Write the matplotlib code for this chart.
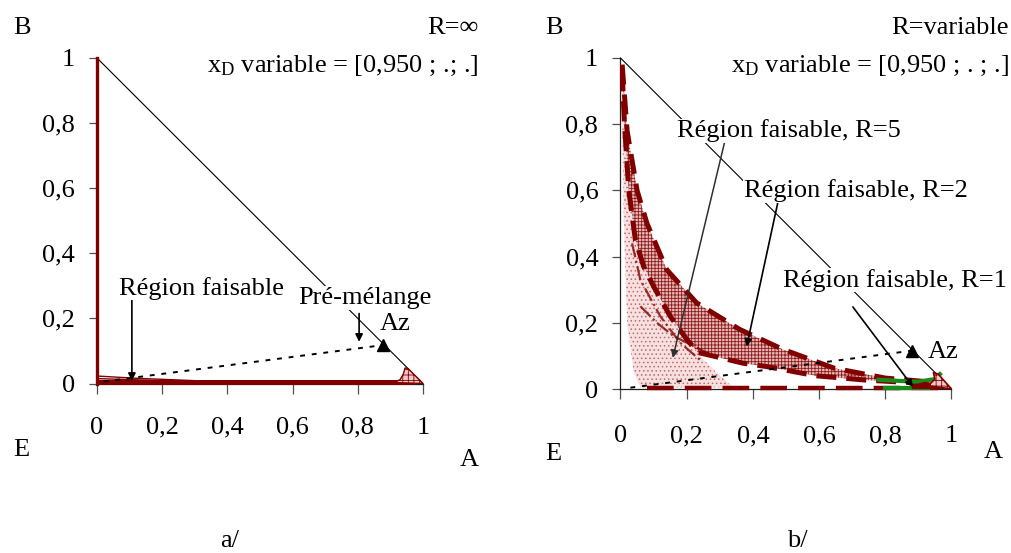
import matplotlib
matplotlib.use("Agg")
import matplotlib.pyplot as plt

plt.rcParams['font.family'] = ['Liberation Serif', 'DejaVu Serif']
plt.rcParams['mathtext.fontset'] = 'custom'
plt.rcParams['mathtext.rm'] = 'Liberation Serif'
plt.rcParams['mathtext.it'] = 'Liberation Serif:italic'
plt.rcParams['hatch.linewidth'] = 0.6

FS = 19
RED = '#800000'
GREEN = '#1a8c1a'

# ---------------- data ----------------
ticks = [0, 0.2, 0.4, 0.6, 0.8, 1]
tick_labels = ['0', '0,2', '0,4', '0,6', '0,8', '1']

diag_x = [0, 1]
diag_y = [1, 0]

# panel a
az_a = (0.878, 0.118)
premix_a_x = [0.02, 0.878]
premix_a_y = [0.006, 0.118]
wedge_a1_x = [0.0, 0.12, 0.32]
wedge_a1_y = [0.023, 0.016, 0.008]
wedge_a2_x = [0.0, 0.10, 0.35]
wedge_a2_y = [0.015, 0.012, 0.004]
corner_a_x = [0.945, 0.955, 1.0, 0.91, 0.93, 0.94]
corner_a_y = [0.048, 0.045, 0.0, 0.003, 0.012, 0.03]

# panel b
az_b = (0.882, 0.116)
premix_b_x = [0.03, 0.882]
premix_b_y = [0.004, 0.116]
r2_upper_x = [0.005, 0.02, 0.05, 0.08, 0.14, 0.23, 0.36, 0.49, 0.645, 0.80, 0.95]
r2_upper_y = [0.98, 0.78, 0.60, 0.50, 0.36, 0.26, 0.18, 0.12, 0.063, 0.033, 0.02]
r2_lower_x = [0.005, 0.012, 0.025, 0.045, 0.07, 0.10, 0.15, 0.20, 0.235, 0.27, 0.37, 0.44, 0.59, 0.74, 0.90]
r2_lower_y = [0.96, 0.80, 0.60, 0.45, 0.37, 0.31, 0.22, 0.15, 0.11, 0.102, 0.078, 0.068, 0.04, 0.027, 0.018]
r5_edge_x = [0.06, 0.34, 0.29, 0.24]
r5_edge_y = [0.005, 0.005, 0.05, 0.10]
r5_left_x = [0.003, 0.01, 0.02, 0.04]
r5_left_y = [0.95, 0.5, 0.2, 0.05]
dashdot1_x = [0.035, 0.06, 0.12, 0.18, 0.24]
dashdot1_y = [0.44, 0.33, 0.22, 0.14, 0.088]
dashdot2_x = [0.06, 0.11, 0.16, 0.22, 0.27]
dashdot2_y = [0.25, 0.20, 0.16, 0.13, 0.105]
bottom_b_x = [0.08, 0.98]
bottom_b_y = [0.003, 0.003]
r1_green1_x = [0.78, 0.85, 0.90, 0.95, 0.965]
r1_green1_y = [0.028, 0.024, 0.022, 0.03, 0.045]
r1_green2_x = [0.80, 0.93]
r1_green2_y = [0.004, 0.004]
r1_red_x = [0.88, 0.98, 0.975, 0.92, 0.88]
r1_red_y = [0.0, 0.0, 0.012, 0.022, 0.012]
corner_b_x = [0.945, 0.96, 1.0, 0.93, 0.95]
corner_b_y = [0.05, 0.045, 0.0, 0.01, 0.03]

# ---------------- figure ----------------
W, H = 1012, 553
fig = plt.figure(figsize=(W / 100, H / 100), dpi=100)


def px_axes(l, r, b, t):
    return fig.add_axes([l / W, 1 - b / H, (r - l) / W, (b - t) / H])


def style(ax, xpad):
    ax.set_xlim(0, 1)
    ax.set_ylim(0, 1)
    for s in ['top', 'right']:
        ax.spines[s].set_visible(False)
    for s in ['left', 'bottom']:
        ax.spines[s].set_color('#202020')
        ax.spines[s].set_linewidth(0.9)
    ax.set_xticks(ticks)
    ax.set_xticklabels(tick_labels)
    ax.set_yticks(ticks)
    ax.set_yticklabels(tick_labels)
    ax.tick_params(axis='x', direction='out', length=7, width=0.9, color='#505050',
                   labelsize=FS, pad=xpad)
    ax.tick_params(axis='y', direction='out', length=6, width=0.9, color='#505050',
                   labelsize=FS, pad=10)
    ax.plot(diag_x, diag_y, color='black', lw=0.8, zorder=3, clip_on=False)


def ftext(x, y, s, ha='center', va='center', **kw):
    fig.text(x / W, 1 - y / H, s, ha=ha, va=va, fontsize=FS, **kw)


def arrow(ax, start, tip, color='black', lw=1.2):
    ax.annotate('', xy=tip, xytext=start,
                arrowprops=dict(arrowstyle='-|>', color=color, lw=lw,
                                mutation_scale=11, shrinkA=0, shrinkB=0),
                zorder=6, annotation_clip=False)


WB = dict(facecolor='white', edgecolor='none', pad=0.5)

# ---------- panel a ----------
axa = px_axes(97, 423, 383.5, 58)
style(axa, 17)
axa.plot([0, 0], [0, 1], color=RED, lw=2.4, clip_on=False, zorder=4)
axa.plot([0, 0.97], [0.004, 0.004], color=RED, lw=3.6, clip_on=False, zorder=4,
         solid_capstyle='butt')
axa.plot(wedge_a1_x, wedge_a1_y, color=RED, lw=1.0, clip_on=False, zorder=4)
axa.plot(wedge_a2_x, wedge_a2_y, color=RED, lw=1.0, clip_on=False, zorder=4)
axa.fill(corner_a_x, corner_a_y, facecolor='#f0c8c8', edgecolor=RED, hatch='+++',
         lw=1.0, zorder=4, clip_on=False)
axa.plot(premix_a_x, premix_a_y, color='black', lw=1.4, ls=(0, (2.5, 3.5)), zorder=5)
axa.plot([az_a[0]], [az_a[1]], marker='^', color='black', ms=9, zorder=7)
axa.text(0.866, 0.182, 'Az', fontsize=FS, ha='left', va='center', zorder=8)
axa.text(0.322, 0.293, 'Région faisable', fontsize=FS, ha='center', va='center',
         zorder=7, bbox=WB)
arrow(axa, (0.107, 0.263), (0.107, 0.008))
axa.text(0.822, 0.262, 'Pré-mélange', fontsize=FS, ha='center', va='center',
         zorder=7, bbox=WB)
arrow(axa, (0.804, 0.215), (0.804, 0.128))

# ---------- panel b ----------
axb = px_axes(620.5, 951.5, 389, 58)
style(axb, 19)
# R=5 region (stippled)
r5_x = r5_edge_x + r2_lower_x[8::-1] + r5_left_x
r5_y = r5_edge_y + r2_lower_y[8::-1] + r5_left_y
axb.fill(r5_x, r5_y, facecolor='#f8e0e0', edgecolor='#c06a6a', hatch='....',
         lw=0, zorder=2)
# R=2 region (cross-hatched)
r2_x = r2_upper_x + r2_lower_x[::-1]
r2_y = r2_upper_y + r2_lower_y[::-1]
axb.fill(r2_x, r2_y, facecolor='#e8b6b6', edgecolor='#8b1a1a', hatch='+++++',
         lw=0, zorder=2)
axb.plot(r2_upper_x, r2_upper_y, color=RED, lw=3.6, ls=(0, (4, 2)), zorder=4)
axb.plot(r2_lower_x, r2_lower_y, color=RED, lw=3.6, ls=(0, (4, 2)), zorder=4)
axb.plot(dashdot1_x, dashdot1_y, color=RED, lw=1.6, ls='-.', zorder=4, alpha=0.8)
axb.plot(dashdot2_x, dashdot2_y, color=RED, lw=1.6, ls='-.', zorder=4, alpha=0.8)
axb.plot(bottom_b_x, bottom_b_y, color=RED, lw=3.2, ls=(0, (6, 2.5)), zorder=4,
         clip_on=False)
# R=1 region
axb.plot(r1_green1_x, r1_green1_y, color=GREEN, lw=3.0, zorder=5)
axb.plot(r1_green2_x, r1_green2_y, color=GREEN, lw=3.0, zorder=5, clip_on=False)
axb.fill(r1_red_x, r1_red_y, color=RED, lw=0, zorder=5, clip_on=False)
axb.fill(corner_b_x, corner_b_y, facecolor='#f0c8c8', edgecolor=RED, hatch='+++',
         lw=1.2, zorder=5, clip_on=False)
axb.plot(premix_b_x, premix_b_y, color='black', lw=1.4, ls=(0, (2.5, 3.5)), zorder=5)
axb.plot([az_b[0]], [az_b[1]], marker='^', color='black', ms=9, zorder=7)
axb.text(0.929, 0.112, 'Az', fontsize=FS, ha='left', va='center', zorder=7)

axb.text(0.509, 0.78, 'Région faisable, R=5', fontsize=FS, ha='center', va='center',
         zorder=7, bbox=WB)
arrow(axb, (0.316, 0.752), (0.158, 0.094), color='#303030', lw=1.1)
axb.text(0.711, 0.60, 'Région faisable, R=2', fontsize=FS, ha='center', va='center',
         zorder=7, bbox=WB)
arrow(axb, (0.475, 0.562), (0.381, 0.128))
axb.text(0.829, 0.329, 'Région faisable, R=1', fontsize=FS, ha='center', va='center',
         zorder=7, bbox=WB)
arrow(axb, (0.702, 0.248), (0.884, 0.006))

# ---------- figure labels ----------
ftext(21.5, 27.5, 'B')
ftext(21.5, 450, 'E')
ftext(469, 460, 'A')
ftext(478, 28, 'R=∞', ha='right')
ftext(478, 66, r'x$_{\mathrm{D}}$ variable = [0,950 ; .; .]', ha='right')
ftext(230, 541, 'a/')

ftext(553.5, 27.5, 'B')
ftext(553.5, 454, 'E')
ftext(993, 452, 'A')
ftext(1009, 28, 'R=variable', ha='right')
ftext(1009, 66, r'x$_{\mathrm{D}}$ variable = [0,950 ; . ; .]', ha='right')
ftext(797, 541, 'b/')

fig.savefig('out.png', dpi=100)
